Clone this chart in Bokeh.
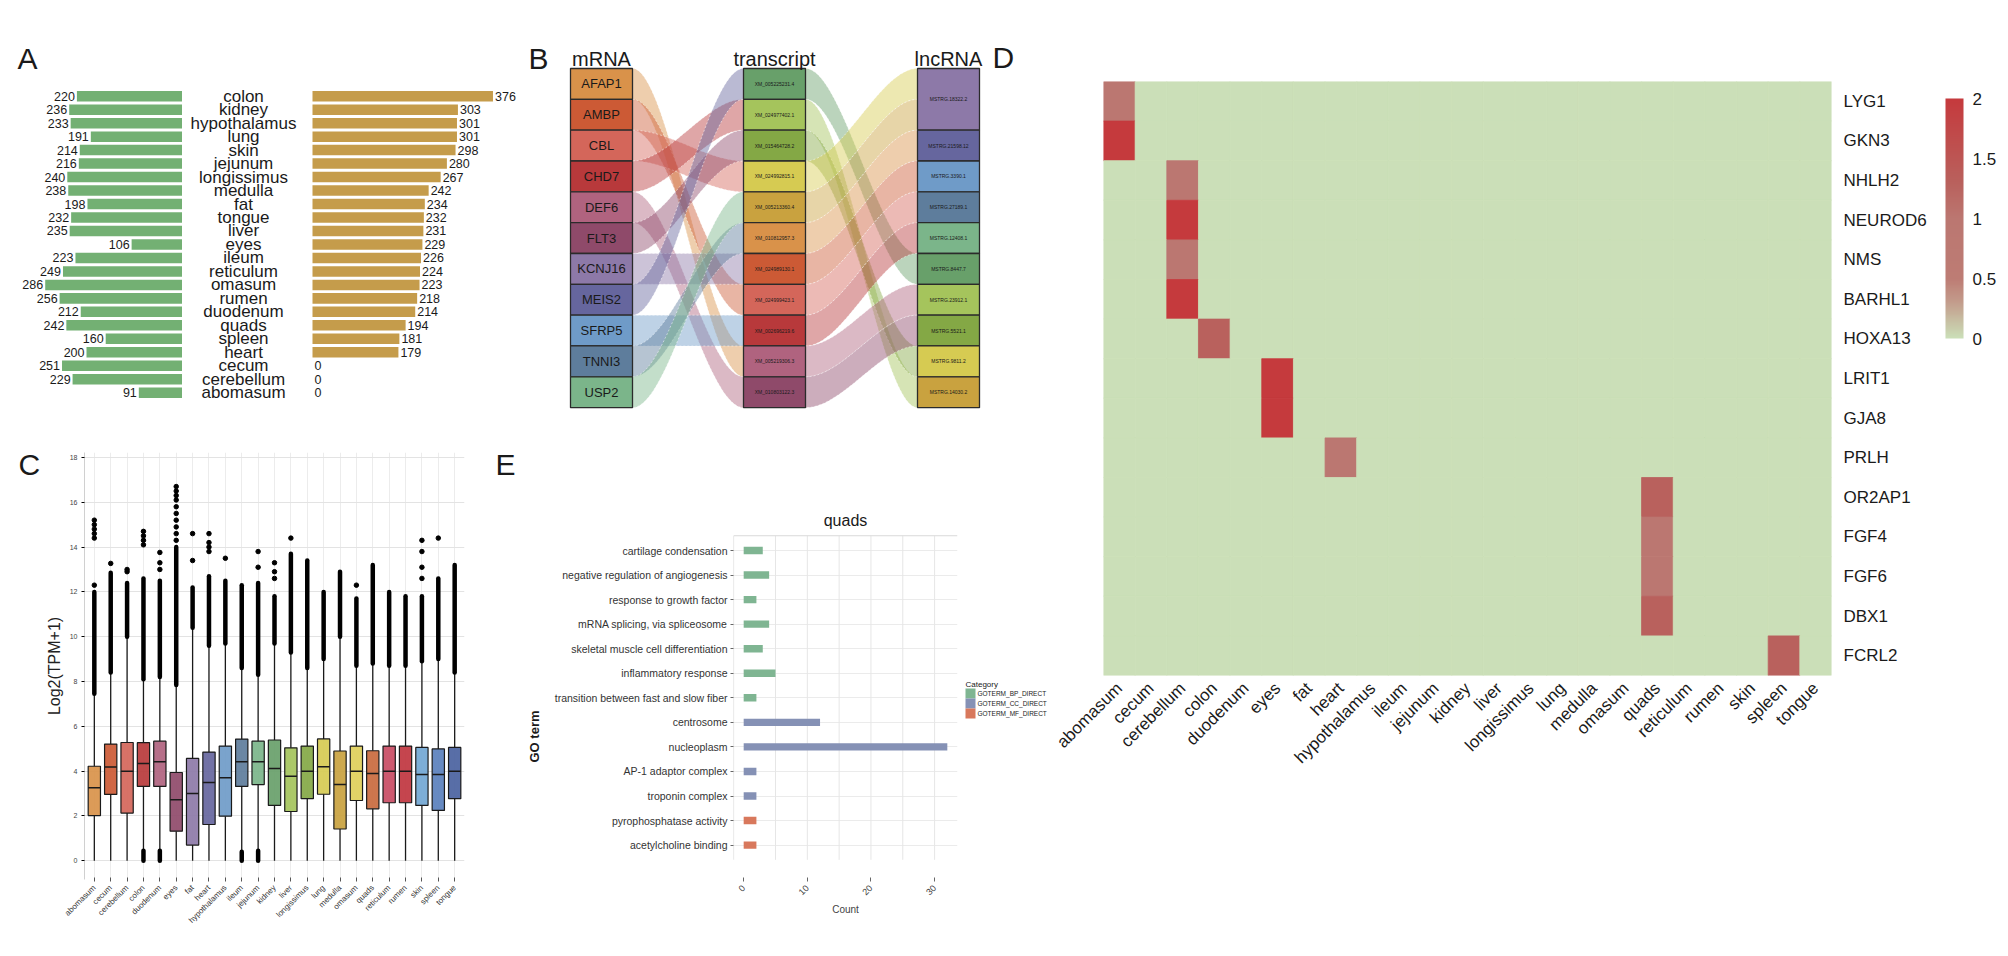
import numpy as np
from bokeh.plotting import figure
from bokeh.models import (ColumnDataSource, Range1d, FactorRange, LinearColorMapper,
                          ColorBar, FixedTicker)
from bokeh.transform import dodge, transform
from bokeh.layouts import row, column
from bokeh.embed import file_html
from bokeh.resources import INLINE
from bokeh.core.properties import value

FONT = "Liberation Sans"
INK = "#1a1a1a"

# ---------------- Panel A data ----------------
a_tissues = ["colon", "kidney", "hypothalamus", "lung", "skin", "jejunum", "longissimus",
             "medulla", "fat", "tongue", "liver", "eyes", "ileum", "reticulum", "omasum",
             "rumen", "duodenum", "quads", "spleen", "heart", "cecum", "cerebellum", "abomasum"]
a_mrna_counts = [220, 236, 233, 191, 214, 216, 240, 238, 198, 232, 235, 106, 223, 249, 286,
                 256, 212, 242, 160, 200, 251, 229, 91]
a_lncrna_counts = [376, 303, 301, 301, 298, 280, 267, 242, 234, 232, 231, 229, 226, 224, 223,
                   218, 214, 194, 181, 179, 0, 0, 0]

# ---------------- shared tissue palette ----------------
c_tissues = ["abomasum", "cecum", "cerebellum", "colon", "duodenum", "eyes", "fat", "heart",
             "hypothalamus", "ileum", "jejunum", "kidney", "liver", "longissimus", "lung",
             "medulla", "omasum", "quads", "reticulum", "rumen", "skin", "spleen", "tongue"]
c_colors = ["#d9924a", "#cc5a35", "#d4665a", "#b8393b", "#b0637f", "#8f4a6a", "#8d79a8",
            "#66669e", "#6f9bc8", "#5e7d9c", "#7bb58a", "#68a06a", "#a5c45c", "#84a845",
            "#d6cb52", "#c9a23f", "#e0cf5a", "#c96a3e", "#c94c64", "#c0353f", "#72a7d4",
            "#5a80bd", "#4a62a0"]

# ---------------- Panel B data ----------------
b_mrna = ["AFAP1", "AMBP", "CBL", "CHD7", "DEF6", "FLT3", "KCNJ16", "MEIS2", "SFRP5", "TNNI3", "USP2"]
b_transcripts = ["XM_005225231.4", "XM_024977402.1", "XM_015464728.2", "XM_024992815.1",
                 "XM_005213360.4", "XM_010812957.3", "XM_024989130.1", "XM_024999423.1",
                 "XM_002696219.6", "XM_005219306.3", "XM_010803122.3"]
b_lncrna = ["MSTRG.18322.2", "MSTRG.21598.12", "MSTRG.3390.1", "MSTRG.27189.1", "MSTRG.12408.1",
            "MSTRG.8447.7", "MSTRG.23912.1", "MSTRG.5521.1", "MSTRG.9811.2", "MSTRG.14030.2"]
b_mrna_to_transcript = [9, 7, 3, 1, 10, 2, 6, 0, 8, 5, 4]
b_transcript_to_lncrna = [5, 9, 8, 0, 0, 1, 2, 3, 4, 6, 7]
b_mrna_colors = c_colors[0:11]
b_transcript_colors = c_colors[11:16] + c_colors[0:6]
b_lncrna_colors = c_colors[6:16]

# ---------------- Panel C data ----------------
c_q1 = [2.02, 2.96, 2.13, 3.32, 3.32, 1.32, 0.70, 1.62, 1.99, 3.32, 3.40, 2.47, 2.20, 2.77,
        2.97, 1.42, 2.69, 2.32, 2.59, 2.59, 2.47, 2.25, 2.77]
c_median = [3.26, 4.19, 4.00, 4.34, 4.42, 2.72, 3.00, 3.49, 3.71, 4.42, 4.42, 4.12, 3.77, 4.00,
            4.20, 3.41, 4.00, 3.90, 4.00, 4.00, 3.85, 3.85, 4.00]
c_q3 = [4.22, 5.21, 5.28, 5.27, 5.34, 3.94, 4.57, 4.85, 5.12, 5.43, 5.34, 5.39, 5.04, 5.12,
        5.44, 4.90, 5.12, 4.91, 5.12, 5.12, 5.06, 4.99, 5.06]
c_whisker_low = [0, 0, 0, 0.5, 0.5, 0, 0, 0, 0, 0.45, 0.5, 0, 0, 0, 0, 0, 0, 0, 0, 0, 0, 0, 0]
c_whisker_high = [7.45, 8.4, 10.0, 8.1, 8.2, 7.85, 10.4, 9.6, 9.7, 8.6, 8.3, 9.7, 9.3, 8.6,
                  9.0, 10.0, 8.7, 8.8, 8.7, 8.7, 8.9, 9.0, 8.4]
c_outlier_top = [12.0, 12.85, 12.4, 12.6, 12.5, 14.0, 12.2, 12.7, 12.5, 12.3, 12.4, 11.8, 13.7,
                 13.4, 12.0, 12.9, 11.7, 13.2, 12.0, 11.8, 11.8, 12.6, 13.2]
c_low_out_tissue = ["colon", "duodenum", "ileum", "jejunum"]
c_low_out_top = [0.45, 0.45, 0.4, 0.45]
c_sparse_tissue = (["abomasum"] * 6 + ["cecum"] + ["cerebellum"] * 2 + ["colon"] * 4 +
                   ["duodenum"] * 3 + ["eyes"] * 10 + ["fat"] * 2 + ["heart"] * 4 +
                   ["hypothalamus"] + ["jejunum"] * 2 + ["kidney"] * 3 + ["liver"] +
                   ["omasum"] + ["skin"] * 4 + ["spleen"])
c_sparse_value = ([12.3, 14.4, 14.6, 14.8, 15.0, 15.2] + [13.27] + [12.9, 13.0] +
                  [14.1, 14.3, 14.5, 14.7] + [13.0, 13.3, 13.76] +
                  [14.3, 14.6, 14.9, 15.2, 15.5, 15.8, 16.1, 16.3, 16.5, 16.7] + [13.4, 14.6] +
                  [13.8, 14.0, 14.2, 14.6] + [13.5] + [13.1, 13.8] + [12.6, 12.9, 13.3] +
                  [14.4] + [12.3] + [12.6, 13.1, 13.8, 14.3] + [14.4])
c_yticks = [0, 2, 4, 6, 8, 10, 12, 14, 16, 18]

# ---------------- Panel E data ----------------
e_terms = ["cartilage condensation", "negative regulation of angiogenesis",
           "response to growth factor", "mRNA splicing, via spliceosome",
           "skeletal muscle cell differentiation", "inflammatory response",
           "transition between fast and slow fiber", "centrosome", "nucleoplasm",
           "AP-1 adaptor complex", "troponin complex", "pyrophosphatase activity",
           "acetylcholine binding"]
e_counts = [3, 4, 2, 4, 3, 5, 2, 12, 32, 2, 2, 2, 2]
e_category = (["GOTERM_BP_DIRECT"] * 7 + ["GOTERM_CC_DIRECT"] * 4 + ["GOTERM_MF_DIRECT"] * 2)
e_cat_names = ["GOTERM_BP_DIRECT", "GOTERM_CC_DIRECT", "GOTERM_MF_DIRECT"]
e_cat_colors = ["#7fb592", "#8591b5", "#d8785c"]
e_xticks = [0, 10, 20, 30]
e_xgrid = [5, 10, 15, 20, 25, 30]

# ---------------- Panel D data ----------------
d_genes = ["LYG1", "GKN3", "NHLH2", "NEUROD6", "NMS", "BARHL1", "HOXA13", "LRIT1", "GJA8",
           "PRLH", "OR2AP1", "FGF4", "FGF6", "DBX1", "FCRL2"]
d_hit_gene = ["LYG1", "GKN3", "NHLH2", "NEUROD6", "NMS", "BARHL1", "HOXA13", "LRIT1", "GJA8",
              "PRLH", "OR2AP1", "FGF4", "FGF6", "DBX1", "FCRL2"]
d_hit_tissue = ["abomasum", "abomasum", "cerebellum", "cerebellum", "cerebellum", "cerebellum",
                "colon", "eyes", "eyes", "heart", "quads", "quads", "quads", "quads", "spleen"]
d_hit_value = [1.0, 2.0, 1.0, 2.0, 1.0, 2.0, 1.3, 2.0, 2.0, 1.0, 1.3, 1.0, 1.0, 1.3, 1.3]
d_cbar_ticks = [0, 0.5, 1, 1.5, 2]
d_stops = [0.0, 0.3, 0.5, 1.0, 1.3, 2.0]
d_stop_colors = ["#cbdfb8", "#c39c8c", "#bd7c74", "#bb7771", "#b9615d", "#c53a3d"]


def fig(w, h, l, r, t, b, title=None, **kw):
    p = figure(width=w, height=h, min_border_left=l, min_border_right=r, min_border_top=t,
               min_border_bottom=b, output_backend="svg", toolbar_location=None, title=title,
               **kw)
    p.outline_line_color = None
    p.background_fill_color = "white"
    p.border_fill_color = "white"
    return p


def blank(w, h, t=0, b=0):
    # canvas-pixel coordinates (y downwards from the canvas top)
    p = fig(w, h, 0, 0, t, b, x_range=Range1d(0, w), y_range=Range1d(h - b, t),
            x_axis_location=None, y_axis_location=None)
    p.grid.visible = False
    return p


def letter_glyph(p, x, y, txt):
    # y is the vertical centre of the capital letter
    p.text(x=[x], y=[y], text=[txt], text_font=value(FONT), text_font_size="30px",
           text_color=INK, text_align="left", text_baseline="middle")


# ================= Panel A =================
A_SCALE = 0.48
A_ROW = 13.478
A_TOP = 95.7
a_index = list(range(len(a_tissues)))
ya = Range1d((428 - A_TOP) / A_ROW, -A_TOP / A_ROW)
srcA = ColumnDataSource(dict(i=a_index, t=a_tissues, g=a_mrna_counts, l=a_lncrna_counts,
                             gs=[str(v) for v in a_mrna_counts],
                             ls=[str(v) for v in a_lncrna_counts]))

pa1 = fig(182, 428, 0, 0, 0, 0, x_range=Range1d(182 / A_SCALE, 0), y_range=ya,
          x_axis_location=None, y_axis_location=None)
pa1.grid.visible = False
pa1.hbar(y="i", left=0, right="g", height=0.78, fill_color="#73b073", line_color=None, source=srcA)
pa1.text(x="g", y="i", text="gs", x_offset=-2, text_align="right", text_baseline="middle",
         text_font=value(FONT), text_font_size="12.5px", text_color=INK, source=srcA)
letter_glyph(pa1, (182 - 17) / A_SCALE, (57.5 - A_TOP) / A_ROW, "A")

pa2 = fig(122, 428, 0, 0, 0, 0, x_range=Range1d(0, 1), y_range=ya,
          x_axis_location=None, y_axis_location=None)
pa2.grid.visible = False
pa2.text(x=0.5, y="i", text="t", text_align="center", text_baseline="middle",
         text_font=value(FONT), text_font_size="17px", text_color=INK, source=srcA)

pa3 = fig(216, 428, 0, 0, 0, 0, x_range=Range1d(-8 / A_SCALE, 208 / A_SCALE), y_range=ya,
          x_axis_location=None, y_axis_location=None)
pa3.grid.visible = False
pa3.hbar(y="i", left=0, right="l", height=0.78, fill_color="#c59c4b", line_color=None, source=srcA)
pa3.text(x="l", y="i", text="ls", x_offset=2, text_align="left", text_baseline="middle",
         text_font=value(FONT), text_font_size="12.5px", text_color=INK, source=srcA)

# ================= Panel B (alluvial) =================
B_UNIT = 30.83
B_TOP = 68.0
pb = fig(532, 428, 0, 0, 0, 0, x_range=Range1d(-50, 482),
         y_range=Range1d((428 - B_TOP) / B_UNIT, -B_TOP / B_UNIT),
         x_axis_location=None, y_axis_location=None)
pb.grid.visible = False
col_x = [0, 173, 347]
col_w = 62


def ribbon(x0, x1, a0, a1, b0, b1, n=48):
    t = np.linspace(0, 1, n)
    s = t * t * (3 - 2 * t)
    xs = x0 + (x1 - x0) * t
    top = a0 + (b0 - a0) * s
    bot = a1 + (b1 - a1) * s
    return list(xs) + list(xs[::-1]), list(top) + list(bot[::-1])


lnc_sizes = [b_transcript_to_lncrna.count(k) for k in range(len(b_lncrna))]
lnc_start = [int(v) for v in np.cumsum([0] + lnc_sizes[:-1])]
fill_ptr = list(lnc_start)
tx_slot = []
for j, k in enumerate(b_transcript_to_lncrna):
    tx_slot.append(fill_ptr[k])
    fill_ptr[k] += 1

rx, ry, rc = [], [], []
for i, j in enumerate(b_mrna_to_transcript):
    xs, ys = ribbon(col_x[0] + col_w, col_x[1], i, i + 1, j, j + 1)
    rx.append(xs); ry.append(ys); rc.append(b_mrna_colors[i])
for j, k in enumerate(b_transcript_to_lncrna):
    s = tx_slot[j]
    xs, ys = ribbon(col_x[1] + col_w, col_x[2], j, j + 1, s, s + 1)
    rx.append(xs); ry.append(ys); rc.append(b_transcript_colors[j])
pb.patches(xs=rx, ys=ry, fill_color=rc, fill_alpha=0.45, line_color="white", line_alpha=0.7,
           line_width=0.7, line_dash="2 2")

n_m = len(b_mrna)
pb.quad(left=[col_x[0]] * n_m, right=[col_x[0] + col_w] * n_m, top=list(range(n_m)),
        bottom=[i + 1 for i in range(n_m)], fill_color=b_mrna_colors, line_color="#2b2b2b",
        line_width=1.3)
pb.text(x=[col_x[0] + col_w / 2] * n_m, y=[i + 0.5 for i in range(n_m)], text=b_mrna,
        text_align="center", text_baseline="middle", text_font=value(FONT),
        text_font_size="13px", text_color=INK)
n_t = len(b_transcripts)
pb.quad(left=[col_x[1]] * n_t, right=[col_x[1] + col_w] * n_t, top=list(range(n_t)),
        bottom=[i + 1 for i in range(n_t)], fill_color=b_transcript_colors, line_color="#2b2b2b",
        line_width=1.3)
pb.text(x=[col_x[1] + col_w / 2] * n_t, y=[i + 0.5 for i in range(n_t)], text=b_transcripts,
        text_align="center", text_baseline="middle", text_font=value(FONT),
        text_font_size="5px", text_color=INK)
n_l = len(b_lncrna)
pb.quad(left=[col_x[2]] * n_l, right=[col_x[2] + col_w] * n_l, top=lnc_start,
        bottom=[a + b for a, b in zip(lnc_start, lnc_sizes)], fill_color=b_lncrna_colors,
        line_color="#2b2b2b", line_width=1.3)
pb.text(x=[col_x[2] + col_w / 2] * n_l, y=[a + b / 2 for a, b in zip(lnc_start, lnc_sizes)],
        text=b_lncrna, text_align="center", text_baseline="middle", text_font=value(FONT),
        text_font_size="5px", text_color=INK)
pb.text(x=[c + col_w / 2 for c in col_x], y=[(58.5 - B_TOP) / B_UNIT] * 3,
        text=["mRNA", "transcript", "lncRNA"], text_align="center", text_baseline="middle",
        text_font=value(FONT), text_font_size="20px", text_color=INK)
letter_glyph(pb, -42, (57.5 - B_TOP) / B_UNIT, "B")
letter_glyph(pb, 422, (56.5 - B_TOP) / B_UNIT, "D")

# ================= bottom row: common borders =================
BT, BB = 24, 69            # top / bottom borders shared by the whole bottom row
BH = 520

# ---- Panel C (box plot) ----
pcl = blank(42, BH, BT, BB)
letter_glyph(pcl, 18, 463.5 - 428, "C")

C_PX = 22.41
C_ZERO = 860.3 - 428       # pixel row of value 0 inside the bottom-row canvas
pc = fig(448, BH, 41, 26, BT, BB,
         x_range=FactorRange(*c_tissues, range_padding=0.1, range_padding_units="absolute"),
         y_range=Range1d((C_ZERO - (BH - BB)) / C_PX, (C_ZERO - BT) / C_PX))
srcC = ColumnDataSource(dict(t=c_tissues, q1=c_q1, med=c_median, q3=c_q3, wlo=c_whisker_low,
                             whi=c_whisker_high, otop=c_outlier_top, col=c_colors))
pc.segment(x0="t", y0="q3", x1="t", y1="whi", line_color=INK, line_width=1.3, source=srcC)
pc.segment(x0="t", y0="q1", x1="t", y1="wlo", line_color=INK, line_width=1.3, source=srcC)
pc.segment(x0="t", y0="whi", x1="t", y1="otop", line_color="black", line_width=4.5,
           line_cap="round", source=srcC)
pc.segment(x0=c_low_out_tissue, y0=[0] * len(c_low_out_tissue), x1=c_low_out_tissue,
           y1=c_low_out_top, line_color="black", line_width=4.5, line_cap="round")
pc.scatter(x=c_sparse_tissue, y=c_sparse_value, size=4.5, color="black")
pc.vbar(x="t", bottom="q1", top="q3", width=0.75, fill_color="col", fill_alpha=0.92,
        line_color=INK, line_width=1.2, source=srcC)
pc.segment(x0=dodge("t", -0.375, range=pc.x_range), y0="med",
           x1=dodge("t", 0.375, range=pc.x_range), y1="med", line_color=INK, line_width=1.5,
           source=srcC)
pc.yaxis.ticker = FixedTicker(ticks=c_yticks)
pc.yaxis.axis_label = "Log2(TPM+1)"
pc.yaxis.axis_label_text_font = FONT
pc.yaxis.axis_label_text_font_style = "normal"
pc.yaxis.axis_label_text_font_size = "16px"
pc.yaxis.axis_label_text_color = "#222222"
pc.yaxis.axis_label_standoff = 4
pc.yaxis.axis_line_color = "#d0d0d0"
pc.yaxis.major_tick_out = 3
pc.yaxis.major_tick_in = 0
pc.yaxis.minor_tick_line_color = None
pc.yaxis.major_label_standoff = 4
pc.yaxis.major_label_text_font_size = "7px"
pc.yaxis.major_label_text_color = "#444444"
pc.yaxis.major_label_text_font = FONT
pc.xaxis.axis_line_color = None
pc.xaxis.major_tick_out = 2
pc.xaxis.major_tick_line_color = "#555555"
pc.xaxis.major_label_orientation = np.pi / 4
pc.xaxis.major_label_text_font_size = "8px"
pc.xaxis.major_label_text_font = FONT
pc.xaxis.major_label_text_color = "#333333"
pc.ygrid.grid_line_color = "#e3e3e3"
pc.ygrid.grid_line_width = 1.2
pc.xgrid.grid_line_color = "#ececec"

# ---- Panel E (GO bars) ----
pel = blank(55, BH, BT, BB)
letter_glyph(pel, 5, 463.5 - 428, "E")
pel.text(x=[44], y=[736 - 428], text=["GO term"], angle=np.pi / 2, text_align="center",
         text_baseline="middle", text_font=value(FONT), text_font_size="13px",
         text_font_style="bold", text_color=INK)

E_PITCH = 24.55
E_FIRST = 550 - 428        # pixel row of the first GO term inside the bottom-row canvas
e_index = list(range(len(e_terms)))
pe = fig(415, BH, 188, 3, BT, BB, x_range=Range1d(-1.6, 33.6),
         y_range=Range1d((BH - BB - E_FIRST) / E_PITCH, (BT - E_FIRST) / E_PITCH))
srcE = ColumnDataSource(dict(k=e_index, term=e_terms, n=e_counts, cat=e_category,
                             col=[e_cat_colors[e_cat_names.index(c)] for c in e_category]))
pe.xgrid.visible = False
pe.ygrid.grid_line_color = "#ebebeb"
pe.segment(x0=e_xgrid, y0=[-0.6] * len(e_xgrid), x1=e_xgrid, y1=[12.6] * len(e_xgrid),
           line_color="#e6e6e6", line_width=1)
pe.segment(x0=[-1.6, -1.6], y0=[-0.6, -0.6], x1=[33.6, -1.6], y1=[-0.6, 12.6],
           line_color="#d9d9d9", line_width=1.2)
pe.hbar(y="k", left=0, right="n", height=0.3, fill_color="col", line_color=None, source=srcE)
pe.text(x=[16.0], y=[(520 - 550) / E_PITCH], text=["quads"], text_align="center",
        text_baseline="middle", text_font=value(FONT), text_font_size="16px",
        text_color=INK)
pe.xaxis.ticker = FixedTicker(ticks=e_xticks)
pe.xaxis.axis_label = "Count"
pe.xaxis.axis_label_text_font = FONT
pe.xaxis.axis_label_text_font_style = "normal"
pe.xaxis.axis_label_text_font_size = "10px"
pe.xaxis.axis_label_standoff = 3
pe.xaxis.major_label_orientation = np.pi / 4
pe.xaxis.major_label_text_font_size = "9px"
pe.xaxis.major_label_text_font = FONT
pe.xaxis.axis_line_color = None
pe.xaxis.major_tick_out = 2
pe.xaxis.minor_tick_line_color = None
pe.xaxis.major_tick_line_color = "#666666"
pe.yaxis.ticker = FixedTicker(ticks=e_index)
pe.yaxis.major_label_overrides = {k: t for k, t in zip(e_index, e_terms)}
pe.yaxis.major_label_standoff = 3
pe.yaxis.major_label_text_font_size = "10.5px"
pe.yaxis.major_label_text_font = FONT
pe.yaxis.major_label_text_color = "#333333"
pe.yaxis.axis_line_color = None
pe.yaxis.major_tick_out = 3
pe.yaxis.major_tick_in = 0
pe.yaxis.minor_tick_line_color = None
pe.yaxis.major_tick_line_color = "#666666"

# legend of panel E, drawn in its own strip to the right of the plot
peg = blank(92, BH, BT, BB)
peg.text(x=[5], y=[256], text=["Category"], text_font=value(FONT), text_font_size="8px",
         text_color=INK, text_baseline="alphabetic")
peg.quad(left=[5] * 3, right=[15] * 3, top=[260 + 10 * k for k in range(3)],
         bottom=[270 + 10 * k for k in range(3)], fill_color=e_cat_colors, line_color=None)
peg.text(x=[17] * 3, y=[265 + 10 * k for k in range(3)], text=e_cat_names,
         text_font=value(FONT), text_font_size="6.5px", text_color=INK, text_baseline="middle")

# ================= Panel D (heatmap) =================
hx, hy, hv = [], [], []
for g in d_genes:
    for t in c_tissues:
        v = 0.0
        for gg, tt, vv in zip(d_hit_gene, d_hit_tissue, d_hit_value):
            if gg == g and tt == t:
                v = vv
        hx.append(t); hy.append(g); hv.append(v)

grid = np.linspace(0, 2, 256)
rgb = np.array([[int(c[i:i + 2], 16) for i in (1, 3, 5)] for c in d_stop_colors], float)
pal = []
for v in grid:
    r_, g_, b_ = (np.interp(v, d_stops, rgb[:, k]) for k in range(3))
    pal.append("#%02x%02x%02x" % (int(round(r_)), int(round(g_)), int(round(b_))))
mapper = LinearColorMapper(palette=pal, low=0, high=2)

pd_ = fig(948, 948, 51, 169, 81, 273, x_range=FactorRange(*c_tissues),
          y_range=FactorRange(*d_genes[::-1]), y_axis_location="right")
srcD = ColumnDataSource(dict(x=hx, y=hy, v=hv))
pd_.rect(x="x", y="y", width=1, height=1, fill_color=transform("v", mapper),
         line_color=transform("v", mapper), line_width=0.8, source=srcD)
pd_.grid.visible = False
for ax in (pd_.xaxis, pd_.yaxis):
    ax.axis_line_color = None
    ax.major_tick_line_color = None
    ax.minor_tick_line_color = None
    ax.major_label_text_font = FONT
    ax.major_label_text_font_size = "17px"
    ax.major_label_text_color = INK
pd_.xaxis.major_label_orientation = np.pi / 4
pd_.xaxis.major_label_standoff = 4
pd_.yaxis.major_label_standoff = 6
cb = ColorBar(color_mapper=mapper, ticker=FixedTicker(ticks=d_cbar_ticks), width=18, height=240,
              location=(842, 337), padding=0, margin=0, major_tick_line_color=None,
              bar_line_color=None, major_label_text_font=FONT, major_label_text_font_size="17px",
              major_label_text_color=INK, label_standoff=9, background_fill_alpha=0,
              major_label_overrides={0: "0", 0.5: "0.5", 1: "1", 1.5: "1.5", 2: "2"})
pd_.add_layout(cb, "center")

layout = row(column(row(pa1, pa2, pa3, pb), row(pcl, pc, pel, pe, peg)), pd_)
open("out.html", "w").write(file_html(layout, INLINE))
